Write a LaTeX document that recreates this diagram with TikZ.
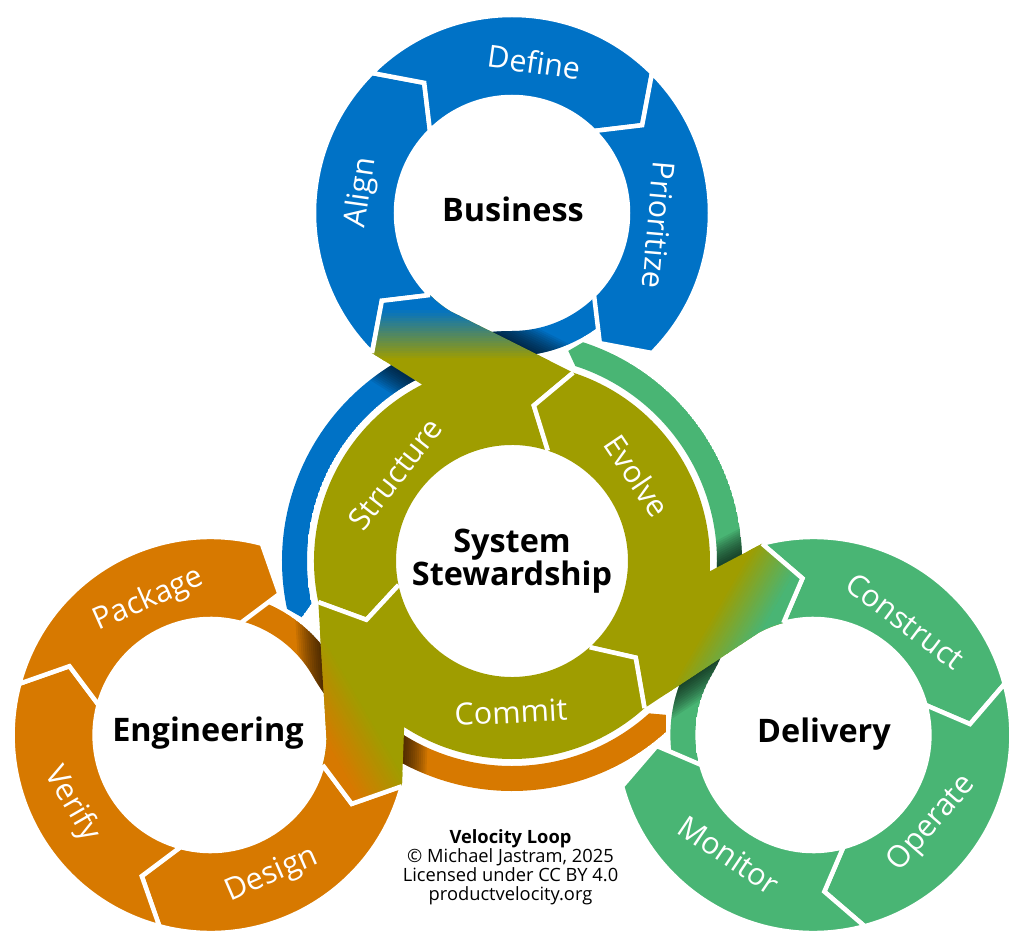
\documentclass[tikz,border=0pt]{standalone}
\usepackage{fontspec}
\setmainfont{Open Sans}
\usepackage{xcolor}
\usepackage{tikz}
\usetikzlibrary{calc}

\definecolor{bizblue}{RGB}{0,114,198}
\definecolor{delgreen}{RGB}{73,181,116}
\definecolor{engorange}{RGB}{215,121,0}
\definecolor{stewolive}{RGB}{159,157,0}

\newcommand{\Rout}{198}
\newcommand{\Rin}{116}
\newcommand{\Rmid}{157}

% arrow piece of a ring: centre, start, end, tip offset
\newcommand{\ringseg}[4]{($(#1)+(#2:\Rout)$) arc[start angle=#2, end angle=#3, radius=\Rout] -- ($(#1)+(#3+#4:\Rmid)$) -- ($(#1)+(#3:\Rin)$) arc[start angle=#3, end angle=#2, radius=\Rin] -- ($(#1)+(#2+#4:\Rmid)$) -- cycle}
% thin link: round the outer ring, then round the hub
\newcommand{\linkpath}{($(X)+(-40:143)$) arc[start angle=-40, end angle=-90, radius=143] arc[start angle=90, end angle=192, radius=205] -- (195:217.5) -- (192:230) arc[start angle=192, end angle=90, radius=230] arc[start angle=-90, end angle=-40, radius=118] -- cycle}
% hub piece with its band out to the outer ring
\newcommand{\bandpath}{($(X)+(225:\Rout)$) -- ($(X)+(214:\Rmid)$) -- ($(X)+(225:\Rin)$) arc[start angle=225, end angle=238, radius=\Rin] -- (72:\Rout) -- (82:\Rmid) -- (72:\Rin) arc[start angle=72, end angle=192, radius=\Rin] -- (202:\Rmid) -- (192:\Rout) arc[start angle=192, end angle=117, radius=\Rout] -- cycle}

\begin{document}
\begin{tikzpicture}[x=1pt, y=1pt,
  seg/.style={draw=white, line width=4.5pt, line join=miter},
  cut/.style={draw=white, line width=4.5pt},
  hub/.style={font=\fontsize{32.4}{33}\selectfont\bfseries, align=center, inner sep=0pt},
  lbl/.style={text=white, font=\fontsize{30.5}{32}\selectfont, inner sep=0pt},
  note/.style={font=\fontsize{18.3}{19}\selectfont, align=center, inner sep=0pt}
]
\useasboundingbox (-512,-384) rectangle (512,561);
\coordinate (S) at (0,0);

% links (under everything)
\foreach \r/\c in {0/bizblue, -120/delgreen, 120/engorange} {
  \begin{scope}[rotate=\r]
    \coordinate (X) at (0,348);
    \begin{scope}
      \clip \linkpath;
      \fill[\c] \linkpath;
      \foreach \w in {4,8,...,48}
        \draw[black, opacity=0.07, line width=\w pt]
          ($(X)+(238:\Rin)$) -- (72:\Rout)
          (117:\Rout) -- ($(X)+(225:\Rout)$);
    \end{scope}
  \end{scope}
}

% outer rings
\foreach \r/\c in {0/bizblue, -120/delgreen, 120/engorange} {
  \begin{scope}[rotate=\r]
    \coordinate (X) at (0,348);
    \foreach \a/\b in {225/135, 135/45, 45/-45}
      \filldraw[fill=\c, seg] \ringseg{X}{\a}{\b}{-11};
  \end{scope}
}

% hub ring with bands
\foreach \r/\c in {0/bizblue, -120/delgreen, 120/engorange} {
  \begin{scope}[rotate=\r]
    \coordinate (X) at (0,348);
    \fill[stewolive] \bandpath;
    \begin{scope}
      \clip \bandpath;
      \fill[\c] (-300,250) -- (300,250) -- (300,420) -- (-300,420) -- cycle;
      \foreach \p in {0,5,...,95}
        \fill[\c!\p!stewolive] (-300,200+0.5*\p) -- (300,200+0.5*\p)
          -- (300,203+0.5*\p) -- (-300,203+0.5*\p) -- cycle;
    \end{scope}
    \draw[cut] ($(X)+(225:\Rout)$) -- ($(X)+(214:\Rmid)$) -- ($(X)+(225:\Rin)$);
    \draw[cut] (72:\Rout) -- (82:\Rmid) -- (72:\Rin);
    \draw[cut] (192:\Rin) -- (202:\Rmid) -- (192:\Rout);
  \end{scope}
}

% centres
\node[hub] (business) at (1,352) {Business};
\node[hub] (stewardship) at (0,0) {System\\Stewardship};
\node[hub] (engineering) at (-304,-172) {Engineering};
\node[hub] (delivery) at (312,-173) {Delivery};

% steps
\node[lbl, rotate=-8] (define) at (22,499) {Define};
\node[lbl, rotate=82] (align) at (-150,368) {Align};
\node[lbl, rotate=-95] (prioritize) at (147,336) {Prioritize};
\node[lbl, rotate=24] (package) at (-363,-39) {Package};
\node[lbl, rotate=-60] (verify) at (-440,-243) {Verify};
\node[lbl, rotate=23.5] (design) at (-240,-314) {Design};
\node[lbl, rotate=-37] (construct) at (393,-60) {Construct};
\node[lbl, rotate=49] (operate) at (420,-263) {Operate};
\node[lbl, rotate=-34] (monitor) at (217,-294) {Monitor};
\node[lbl, rotate=52] (structure) at (-117,87) {Structure};
\node[lbl, rotate=-56] (evolve) at (125,85) {Evolve};
\node[lbl, rotate=3] (commit) at (-1,-151) {Commit};

\node[note] (credits) at (-1.5,-306.5) {\textbf{Velocity Loop}\\© Michael Jastram, 2025\\Licensed under CC BY 4.0\\productvelocity.org};

\end{tikzpicture}
\end{document}
